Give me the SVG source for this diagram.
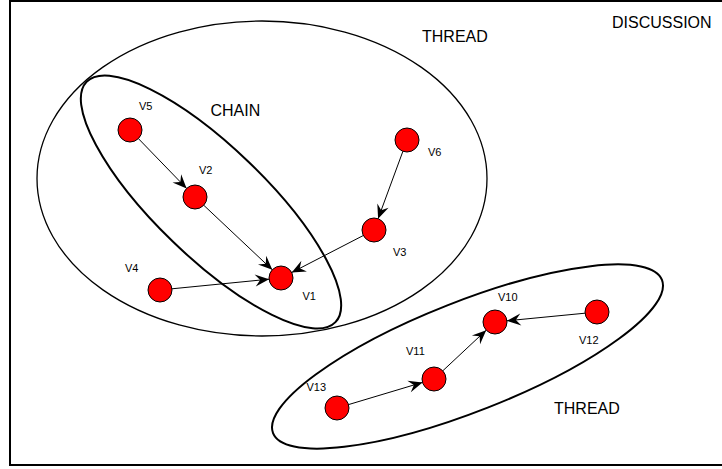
<svg xmlns="http://www.w3.org/2000/svg" width="722" height="469" viewBox="0 0 722 469">
<style>
.node{fill:#ff0000;stroke:#000;stroke-width:1}
.lbl{font-family:"Liberation Sans",Arial,sans-serif;font-size:11px;fill:#000}
.big{font-family:"Liberation Sans",Arial,sans-serif;font-size:16px;fill:#000}
.edge{stroke:#000;stroke-width:1;fill:none;marker-end:url(#arr)}
.grp{fill:none;stroke:#000}
</style>
<defs>
<marker id="arr" markerUnits="userSpaceOnUse" viewBox="-15 -7 16 14" refX="0" refY="0" markerWidth="16" markerHeight="14" orient="auto">
<path d="M0,0 L-14,-6 L-9,0 L-14,6 Z" fill="#000"/>
</marker>
</defs>
<rect width="722" height="469" fill="#fff"/>
<g id="discussion">
<path d="M730,1 L10,1 L10,465 L730,465" fill="none" stroke="#000" stroke-width="2"/>
<text class="big" x="612" y="27.5">DISCUSSION</text>
</g>
<g id="thread1">
<ellipse class="grp" cx="262" cy="178.5" rx="225" ry="157.5" stroke-width="1.3"/>
<text class="big" x="422" y="42">THREAD</text>
</g>
<g id="chain">
<ellipse class="grp" cx="211" cy="202" rx="173" ry="55" transform="rotate(44 211 202)" stroke-width="2"/>
<text class="big" x="210.5" y="115.5">CHAIN</text>
</g>
<g id="thread2">
<ellipse class="grp" cx="467.5" cy="356.5" rx="209" ry="55" transform="rotate(-21.5 467.5 356.5)" stroke-width="2"/>
<text class="big" x="554" y="413.5">THREAD</text>
</g>
<g id="connectors">
<line class="edge" x1="138.4" y1="138.6" x2="186.6" y2="188.4"/>
<line class="edge" x1="203.7" y1="205.2" x2="272.3" y2="269.8"/>
<line class="edge" x1="171.9" y1="288.8" x2="269.1" y2="279.2"/>
<line class="edge" x1="363.3" y1="235.5" x2="291.7" y2="272.5"/>
<line class="edge" x1="402.9" y1="151.3" x2="378.1" y2="218.7"/>
<line class="edge" x1="348.5" y1="404.6" x2="422.5" y2="382.4"/>
<line class="edge" x1="442.8" y1="370.8" x2="486.2" y2="330.2"/>
<line class="edge" x1="585.1" y1="313.2" x2="506.9" y2="320.8"/>
</g>
<g id="V1"><circle class="node" cx="281" cy="278" r="12"/><text class="lbl" x="302.5" y="300">V1</text></g>
<g id="V2"><circle class="node" cx="195" cy="197" r="12"/><text class="lbl" x="199" y="173.5">V2</text></g>
<g id="V3"><circle class="node" cx="374" cy="230" r="12"/><text class="lbl" x="393" y="256">V3</text></g>
<g id="V4"><circle class="node" cx="160" cy="290" r="12"/><text class="lbl" x="125" y="272">V4</text></g>
<g id="V5"><circle class="node" cx="130" cy="130" r="12"/><text class="lbl" x="139" y="109.5">V5</text></g>
<g id="V6"><circle class="node" cx="407" cy="140" r="12"/><text class="lbl" x="428" y="156">V6</text></g>
<g id="V10"><circle class="node" cx="495" cy="322" r="12"/><text class="lbl" x="498" y="301">V10</text></g>
<g id="V11"><circle class="node" cx="434" cy="379" r="12"/><text class="lbl" x="406" y="354.5">V11</text></g>
<g id="V12"><circle class="node" cx="597" cy="312" r="12"/><text class="lbl" x="579" y="343.5">V12</text></g>
<g id="V13"><circle class="node" cx="337" cy="408" r="12"/><text class="lbl" x="306.5" y="391">V13</text></g>
</svg>
